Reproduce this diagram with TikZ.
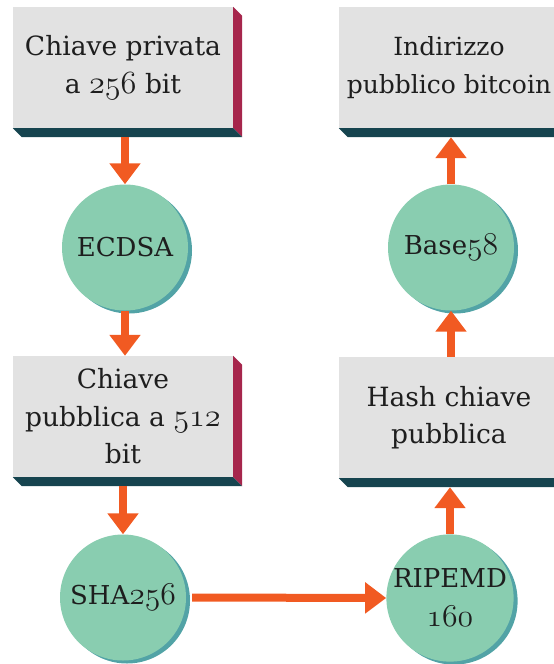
\RequirePackage{fix-cm}
\documentclass[tikz,border=0pt]{standalone}
\usepackage{fontspec}
\setmainfont{DejaVu Serif}
\usetikzlibrary{arrows.meta,shadows}

% old-style figures taken from the math italic font, enlarged to the text's x-height
\newcommand{\osnum}[1]{\scalebox{1.22}{\usefont{OML}{cmm}{m}{it}#1}}

\definecolor{facegray}{HTML}{E2E2E2}
\definecolor{sidered}{HTML}{A6264C}
\definecolor{sideteal}{HTML}{16444F}
\definecolor{discgreen}{HTML}{89CDB0}
\definecolor{discshade}{HTML}{52A3A6}
\definecolor{flow}{HTML}{F15A22}
\definecolor{ink}{HTML}{1E1E1E}

\tikzset{
  stepbox/.style={rectangle, fill=facegray, inner sep=0pt,
    minimum width=220pt, minimum height=121pt, align=center,
    text=ink, font=\fontsize{26.5}{37.5}\selectfont},
  disc/.style={circle, fill=discgreen, inner sep=0pt, minimum size=126pt,
    align=center, text=ink, font=\fontsize{26}{39}\selectfont,
    general shadow={fill=discshade, shadow xshift=4pt, shadow yshift=-3pt}},
  flowarrow/.style={draw=flow, line width=8pt,
    -{Triangle[width=30pt,length=21pt]}},
}

% extruded right and bottom faces of a box
\newcommand{\extrude}[1]{%
  \fill[sidered] (#1.north east) -- ++(9pt,-9pt) -- ([shift={(9pt,-9pt)}]#1.south east) -- (#1.south east) -- cycle;
  \fill[sideteal] (#1.south west) -- (#1.south east) -- ++(9pt,-9pt) -- ([shift={(9pt,-9pt)}]#1.south west) -- cycle;
  \coordinate (#1-base) at ([yshift=-9pt]#1.south);
}

\begin{document}
\begin{tikzpicture}[x=1pt,y=-1pt]
\useasboundingbox (0,0) rectangle (554,664);

% boxes
\node[stepbox] (priv) at (123,67.5) {Chiave privata\\a \osnum{256} bit};
\node[stepbox, font=\fontsize{25}{37.5}\selectfont] (addr) at (449,67.5) {Indirizzo\\pubblico bitcoin};
\node[stepbox] (pub)  at (123,416.5) {Chiave\\pubblica a \osnum{512}\\bit};
\node[stepbox] (hash) at (449,417.5) {Hash chiave\\pubblica};
\extrude{priv}
\extrude{addr}
\extrude{pub}
\extrude{hash}

% transformation steps
\node[disc] (ecdsa) at (125,247.5) {ECDSA};
\node[disc] (b58)   at (451,247.5) {Base\osnum{58}};
\node[disc] (sha)   at (123,597.5) {SHA\osnum{256}};
\node[disc] (ripe)  at (450,598) {RIPEMD\\\osnum{160}};

% flow
\draw[flowarrow] (priv-base -| ecdsa.north) -- (ecdsa.north);
\draw[flowarrow] (ecdsa.south) -- (ecdsa.south |- pub.north);
\draw[flowarrow] (pub-base -| sha.north) -- (sha.north);
\draw[flowarrow] ([xshift=6pt]sha.east) -- (ripe.west);
\draw[flowarrow] (ripe.north) -- (ripe.north |- hash-base);
\draw[flowarrow] (hash.north -| b58.south) -- (b58.south);
\draw[flowarrow] (b58.north) -- (b58.north |- addr-base);
\end{tikzpicture}
\end{document}
